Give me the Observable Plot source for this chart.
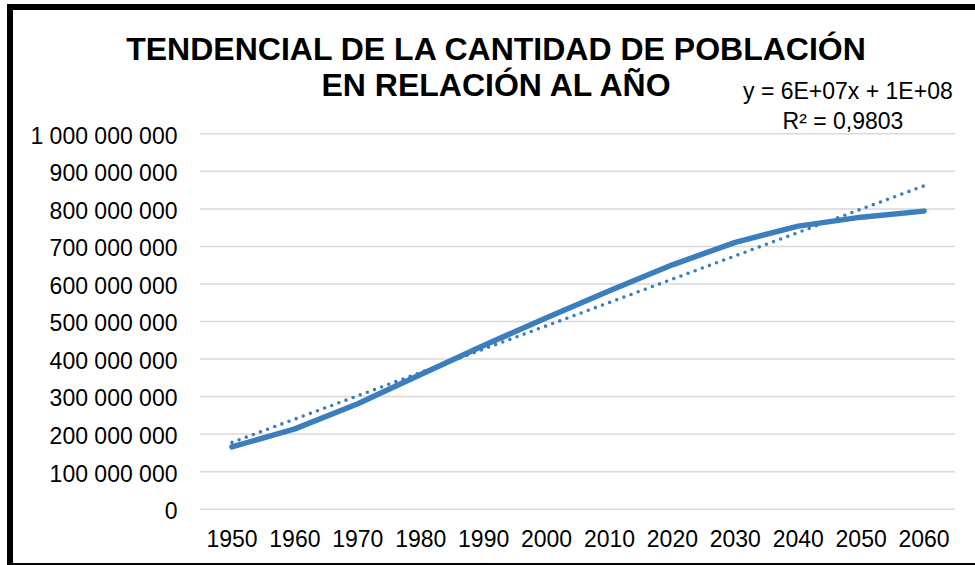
<!DOCTYPE html>
<html>
<head>
<meta charset="utf-8">
<script src="https://cdn.jsdelivr.net/npm/d3@7"></script>
<script src="https://cdn.jsdelivr.net/npm/@observablehq/plot@0.6"></script>
<style>
  html, body { margin: 0; padding: 0; background: #fff; }
  #wrap { position: relative; width: 975px; height: 565px; overflow: hidden; background: #fff;
          font-family: "Liberation Sans", Arial, sans-serif; color: #000; }
  #frame { position: absolute; left: 7px; top: 4px; width: 990px; height: 561px; box-sizing: border-box;
           border-left: 6px solid #000; border-top: 6px solid #000; border-bottom: 2px solid #000; }
  #title { position: absolute; left: 96px; width: 800px; top: 31px; text-align: center;
           font-weight: bold; font-size: 32px; line-height: 36px; white-space: nowrap; }
  #eq { position: absolute; left: 743px; width: 200px; top: 77px; text-align: center;
        font-size: 23px; line-height: 29.5px; white-space: nowrap; }
  #chart { position: absolute; left: 0; top: 0; }
</style>
</head>
<body>
<div id="wrap">
  <div id="chart"></div>
  <div id="frame"></div>
  <div id="title">TENDENCIAL DE LA CANTIDAD DE POBLACIÓN<br>EN RELACIÓN AL AÑO</div>
  <div id="eq">y = 6E+07x + 1E+08<br>R² = 0,9803</div>
</div>
<script>
const years = [1950, 1960, 1970, 1980, 1990, 2000, 2010, 2020, 2030, 2040, 2050, 2060];
const population = [166e6, 214e6, 281e6, 359e6, 436e6, 510e6, 582e6, 651e6, 711e6, 754e6, 778e6, 794e6];
const yTicks = [0, 1e8, 2e8, 3e8, 4e8, 5e8, 6e8, 7e8, 8e8, 9e8, 1e9];

const data = years.map((year, i) => ({year, value: population[i]}));
const blue = "#3a7ebe";
const fmt = d => d3.format(",")(d).replace(/,/g, " ");

const chart = Plot.plot({
  width: 975,
  height: 565,
  marginTop: 133.3,
  marginBottom: 56.3,
  marginLeft: 200,
  marginRight: 20,
  style: { fontFamily: "'Liberation Sans', Arial, sans-serif", color: "#000", background: "transparent" },
  x: { type: "linear", domain: [1945, 2065] },
  y: { domain: [0, 1e9] },
  marks: [
    Plot.gridY(yTicks, { stroke: "#d9d9d9", strokeOpacity: 1, strokeWidth: 1.5 }),
    Plot.axisY(yTicks, { tickSize: 0, tickPadding: 23, tickFormat: fmt, fontSize: 23, dy: 2.5, label: null }),
    Plot.axisX(years, { tickSize: 0, tickPadding: 21.7, tickFormat: d => String(d), fontSize: 23, label: null }),
    Plot.line(data, { x: "year", y: "value", stroke: blue, strokeWidth: 5.5, strokeLinecap: "round", strokeLinejoin: "round" }),
    Plot.linearRegressionY(data, { x: "year", y: "value", stroke: blue, strokeWidth: 3.6, ci: 0,
                                   strokeDasharray: "0 7.6", strokeLinecap: "round" })
  ]
});
document.getElementById("chart").appendChild(chart);
</script>
</body>
</html>
